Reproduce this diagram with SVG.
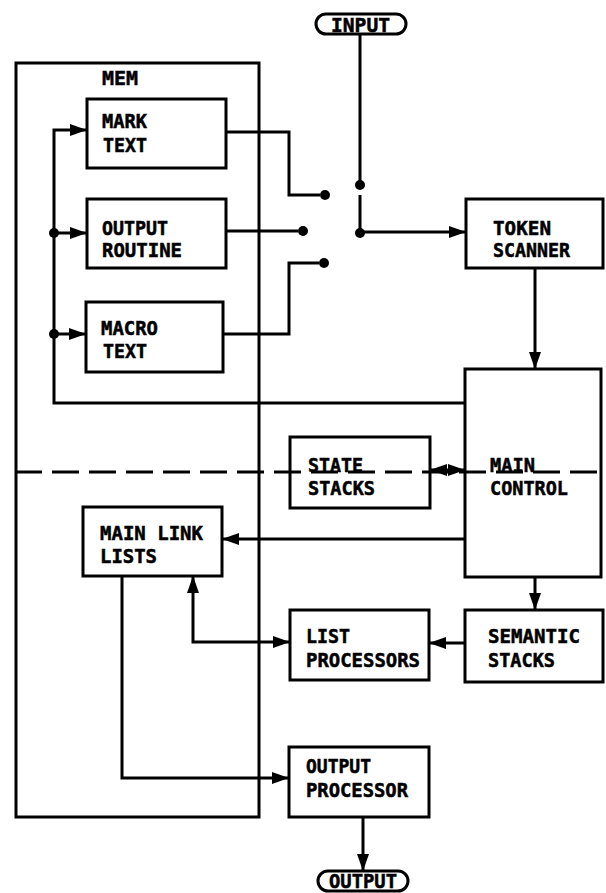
<svg xmlns="http://www.w3.org/2000/svg" width="606" height="893" viewBox="0 0 606 893">
<style>
.box{fill:none;stroke:#000;stroke-width:3}
.ln{fill:none;stroke:#000;stroke-width:3}
.t{font-family:"DejaVu Sans Mono","Liberation Mono",monospace;font-weight:bold;font-size:19px;fill:#000;stroke:#000;stroke-width:0.5}
.dot{fill:#000}
</style>
<defs>
<marker id="ah" markerUnits="userSpaceOnUse" markerWidth="17" markerHeight="12" refX="17" refY="6" orient="auto-start-reverse">
<path d="M0,0 L17,6 L0,12 z" fill="#000"/>
</marker>
</defs>
<rect width="606" height="893" fill="#fff"/>

<g id="mem">
<rect class="box" x="16" y="63" width="243" height="754"/>
<text class="t" x="102" y="85" textLength="36" lengthAdjust="spacingAndGlyphs">MEM</text>
</g>

<g id="input">
<rect class="box" x="316" y="14" width="90" height="20" rx="10"/>
<text class="t" x="331" y="32" font-size="17" textLength="59" lengthAdjust="spacingAndGlyphs">INPUT</text>
</g>

<g id="mark-text">
<rect class="box" x="87" y="99" width="139" height="69"/>
<text class="t" x="102" y="128" textLength="45" lengthAdjust="spacingAndGlyphs">MARK</text>
<text class="t" x="103" y="152" textLength="44" lengthAdjust="spacingAndGlyphs">TEXT</text>
</g>

<g id="output-routine">
<rect class="box" x="87" y="199" width="139" height="69"/>
<text class="t" x="102" y="235" textLength="66" lengthAdjust="spacingAndGlyphs">OUTPUT</text>
<text class="t" x="102" y="257" textLength="80" lengthAdjust="spacingAndGlyphs">ROUTINE</text>
</g>

<g id="macro-text">
<rect class="box" x="86" y="302" width="137" height="70"/>
<text class="t" x="101" y="335" textLength="57" lengthAdjust="spacingAndGlyphs">MACRO</text>
<text class="t" x="103" y="358" textLength="44" lengthAdjust="spacingAndGlyphs">TEXT</text>
</g>

<g id="token-scanner">
<rect class="box" x="466" y="199" width="137" height="69"/>
<text class="t" x="493" y="235" textLength="58" lengthAdjust="spacingAndGlyphs">TOKEN</text>
<text class="t" x="493" y="257" textLength="77" lengthAdjust="spacingAndGlyphs">SCANNER</text>
</g>

<g id="main-control">
<rect class="box" x="465" y="369" width="136" height="208"/>
<text class="t" x="490" y="472" textLength="45" lengthAdjust="spacingAndGlyphs">MAIN</text>
<text class="t" x="490" y="495" textLength="78" lengthAdjust="spacingAndGlyphs">CONTROL</text>
</g>

<g id="state-stacks">
<rect class="box" x="290" y="437" width="140" height="71"/>
<text class="t" x="308" y="472" textLength="55" lengthAdjust="spacingAndGlyphs">STATE</text>
<text class="t" x="308" y="495" textLength="67" lengthAdjust="spacingAndGlyphs">STACKS</text>
</g>

<g id="main-link-lists">
<rect class="box" x="83" y="507" width="139" height="69"/>
<text class="t" x="100" y="540" textLength="103" lengthAdjust="spacingAndGlyphs">MAIN LINK</text>
<text class="t" x="100" y="563" textLength="57" lengthAdjust="spacingAndGlyphs">LISTS</text>
</g>

<g id="list-processors">
<rect class="box" x="290" y="610" width="139" height="70"/>
<text class="t" x="306" y="643" textLength="44" lengthAdjust="spacingAndGlyphs">LIST</text>
<text class="t" x="306" y="667" textLength="114" lengthAdjust="spacingAndGlyphs">PROCESSORS</text>
</g>

<g id="semantic-stacks">
<rect class="box" x="465" y="610" width="138" height="72"/>
<text class="t" x="488" y="643" textLength="92" lengthAdjust="spacingAndGlyphs">SEMANTIC</text>
<text class="t" x="488" y="667" textLength="67" lengthAdjust="spacingAndGlyphs">STACKS</text>
</g>

<g id="output-processor">
<rect class="box" x="289" y="747" width="140" height="70"/>
<text class="t" x="306" y="773" textLength="65" lengthAdjust="spacingAndGlyphs">OUTPUT</text>
<text class="t" x="306" y="797" textLength="102" lengthAdjust="spacingAndGlyphs">PROCESSOR</text>
</g>

<g id="output">
<rect class="box" x="318" y="871" width="90" height="20" rx="10"/>
<text class="t" x="329" y="888" font-size="15" textLength="68" lengthAdjust="spacingAndGlyphs">OUTPUT</text>
</g>

<g id="connectors">
<path class="ln" d="M360,34 V185"/>
<path class="ln" d="M360,195 V232 H466" marker-end="url(#ah)"/>
<circle class="dot" cx="360" cy="185" r="5"/>
<circle class="dot" cx="360" cy="233" r="5"/>
<path class="ln" d="M226,132 H289 V195 H320"/>
<circle class="dot" cx="325" cy="195" r="5"/>
<path class="ln" d="M226,231 H298"/>
<circle class="dot" cx="303" cy="231" r="5"/>
<path class="ln" d="M223,334 H289 V263 H319"/>
<circle class="dot" cx="324" cy="263" r="5"/>
<path class="ln" d="M465,403 H54 V130 H87" marker-end="url(#ah)"/>
<path class="ln" d="M54,233 H87" marker-end="url(#ah)"/>
<path class="ln" d="M54,334 H86" marker-end="url(#ah)"/>
<circle class="dot" cx="54" cy="233" r="5"/>
<circle class="dot" cx="54" cy="334" r="5"/>
<path class="ln" d="M535,268 V369" marker-end="url(#ah)"/>
<path class="ln" d="M430,470 H465" marker-start="url(#ah)" marker-end="url(#ah)"/>
<path class="ln" d="M465,539 H222" marker-end="url(#ah)"/>
<path class="ln" d="M535,577 V610" marker-end="url(#ah)"/>
<path class="ln" d="M465,643 H429" marker-end="url(#ah)"/>
<path class="ln" d="M193,576 V642 H290" marker-start="url(#ah)" marker-end="url(#ah)"/>
<path class="ln" d="M122,576 V778 H289" marker-end="url(#ah)"/>
<path class="ln" d="M363,817 V871" marker-end="url(#ah)"/>
<path class="ln" d="M15,472 H606" stroke-dasharray="27,10"/>
</g>
</svg>
